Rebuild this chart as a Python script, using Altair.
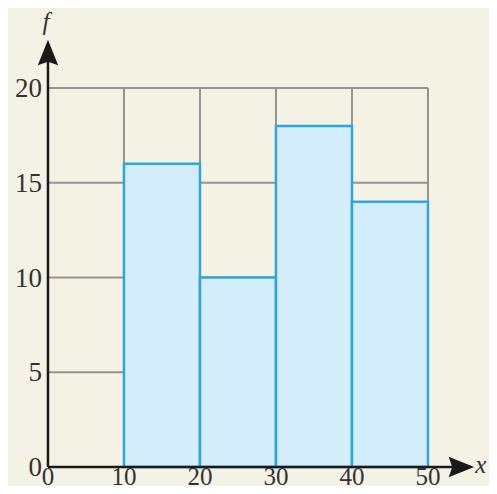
import altair as alt
import pandas as pd

bin_start = [10, 20, 30, 40]
bin_end = [20, 30, 40, 50]
freq = [16, 10, 18, 14]
x_ticks = [0, 10, 20, 30, 40, 50]
y_ticks = [0, 5, 10, 15, 20]
x_max = 50
y_max = 20

bars = pd.DataFrame({"x0": bin_start, "x1": bin_end, "f": freq, "z": [0] * 4})
hgrid = pd.DataFrame({"y": y_ticks[1:], "x0": [0] * 4, "x1": [x_max] * 4})
vgrid = pd.DataFrame({"x": x_ticks[1:], "y0": [0] * 5, "y1": [y_max] * 5})
xlab = pd.DataFrame({"x": x_ticks, "y": [0] * 6, "t": [str(v) for v in x_ticks]})
ylab = pd.DataFrame({"y": y_ticks, "x": [0] * 5, "t": [str(v) for v in y_ticks]})

xs = alt.Scale(domain=[-5.26, 58.03], nice=False, zero=False)
ys = alt.Scale(domain=[-1.0, 24.22], nice=False, zero=False)
X = lambda f: alt.X(f, type="quantitative", scale=xs, axis=None)
Y = lambda f: alt.Y(f, type="quantitative", scale=ys, axis=None)

grid_col = "#939390"
grid_h = alt.Chart(hgrid).mark_rule(color=grid_col, strokeWidth=2).encode(
    x=X("x0"), x2="x1", y=Y("y"))
grid_v = alt.Chart(vgrid).mark_rule(color=grid_col, strokeWidth=2).encode(
    x=X("x"), y=Y("y0"), y2="y1")

rects = alt.Chart(bars).mark_rect(fill="#d3eefa", stroke="#2ea7dc", strokeWidth=2.5).encode(
    x=X("x0"), x2="x1", y=Y("f"), y2="z")

axes_df = pd.DataFrame({"x0": [0, 0], "x1": [0, 54.4], "y0": [0, 0], "y1": [21.87, 0]})
axes = alt.Chart(axes_df).mark_rule(color="#1a1a1a", strokeWidth=2.5).encode(
    x=X("x0"), x2="x1", y=Y("y0"), y2="y1")

arrow_path = "M0,-1 L0.8,1 L0,0.72 L-0.8,1 Z"
arrows_df = pd.DataFrame({"x": [0, 54.4], "y": [21.87, 0], "a": [0, 90]})
arrows = alt.Chart(arrows_df).mark_point(
    shape=arrow_path, filled=True, color="#1a1a1a", opacity=1, size=650, strokeWidth=0
).encode(x=X("x"), y=Y("y"), angle=alt.Angle("a:Q", scale=None))

font = "Times New Roman, Liberation Serif, serif"
xt = alt.Chart(xlab).mark_text(font=font, fontSize=25, color="#333333", dy=18,
                               baseline="alphabetic", align="center").encode(
    x=X("x"), y=Y("y"), text="t:N")
yt = alt.Chart(ylab).mark_text(font=font, fontSize=27, color="#333333", dx=-6, dy=9,
                               baseline="alphabetic", align="right").encode(
    x=X("x"), y=Y("y"), text="t:N")

names = pd.DataFrame({"x": [-0.26, 56.95], "y": [23.48, 0.1], "t": ["f", "x"]})
nm = alt.Chart(names).mark_text(font=font, fontSize=25, fontStyle="italic", color="#333333",
                                baseline="middle", align="center").encode(
    x=X("x"), y=Y("y"), text="t:N")

chart = alt.layer(grid_h, grid_v, rects, axes, arrows, xt, yt, nm).properties(
    width=481, height=478, padding=0, background="#f4f2e5",
    autosize=alt.AutoSizeParams(type="none")
).configure_view(stroke=None)

chart.save("out.html", embed_options={"renderer": "svg", "actions": False})
